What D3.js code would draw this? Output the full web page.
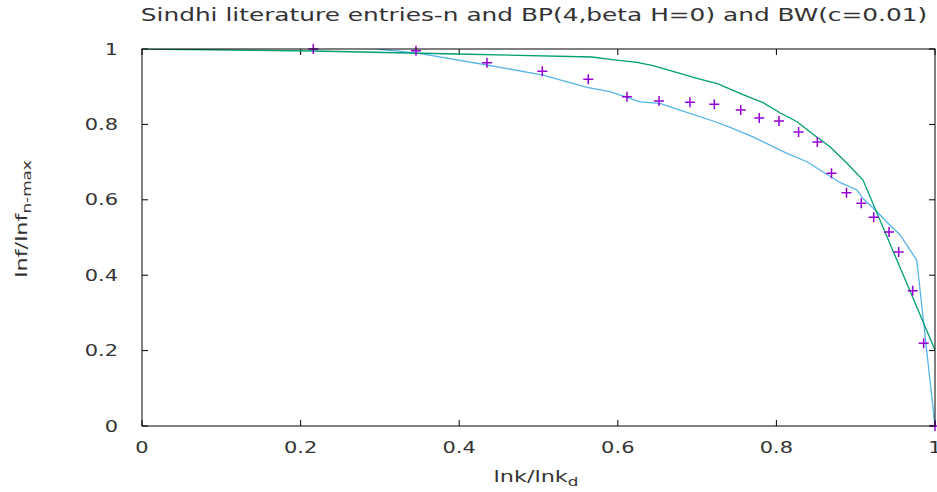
<!DOCTYPE html>
<html>
<head>
<meta charset="utf-8">
<script src="https://cdn.jsdelivr.net/npm/d3@7"></script>
<style>
  body { margin: 0; background: #fff; }
  text { font-family: "DejaVu Sans", sans-serif; fill: #333; }
</style>
</head>
<body>
<div id="chart"></div>
<script>
// data: lnk/lnk_d vs lnf/lnf_n-max
const obsX = [0.216, 0.3455, 0.435, 0.5048, 0.5628, 0.6116, 0.652, 0.691, 0.7217, 0.755, 0.7784, 0.8033,
              0.828, 0.8516, 0.8695, 0.8884, 0.907, 0.9227, 0.942, 0.9542, 0.9719, 0.9857, 1.0]
const obsY = [1.0, 0.9955, 0.9637, 0.941, 0.9196, 0.8735, 0.862, 0.8586, 0.8533, 0.838, 0.817, 0.809,
              0.780, 0.753, 0.6706, 0.619, 0.5907, 0.5536, 0.5146, 0.4615, 0.359, 0.2194, 0.0]

const bpX = [0, 0.2156, 0.397, 0.5675, 0.590, 0.6242, 0.6444, 0.6784, 0.6999, 0.7264, 0.7541, 0.7831,
             0.8045, 0.826, 0.8462, 0.8676, 0.889, 0.9092, 1.0]
const bpY = [1.0, 0.9947, 0.9867, 0.9788, 0.9727, 0.9647, 0.9557, 0.9355, 0.9223, 0.9072, 0.8825, 0.8576,
             0.831, 0.8072, 0.7737, 0.7408, 0.6968, 0.6525, 0.2016]

const bwX = [0.2963, 0.3455, 0.435, 0.5057, 0.5612, 0.590, 0.6116, 0.628, 0.6532, 0.6784, 0.720, 0.7415,
             0.7705, 0.7957, 0.8134, 0.8386, 0.855, 0.880, 0.9016, 0.909, 0.9268, 0.943, 0.956, 0.977, 1.0]
const bwY = [1.0, 0.990, 0.9576, 0.931, 0.898, 0.8867, 0.8719, 0.860, 0.856, 0.838, 0.809, 0.792,
             0.767, 0.741, 0.723, 0.701, 0.679, 0.646, 0.626, 0.604, 0.5684, 0.533, 0.5066, 0.440, 0.0]

const xTicks = [0, 0.2, 0.4, 0.6, 0.8, 1]
const yTicks = [0, 0.2, 0.4, 0.6, 0.8, 1]

const titleText = "Sindhi literature entries-n and BP(4,beta H=0) and BW(c=0.01)"

const W = 937, H = 492
const m = {left: 142, right: 2, top: 49, bottom: 66}
const sx = 1.4   // glyphs in the reference are wide

const svg = d3.select("#chart").append("svg")
    .attr("width", W).attr("height", H)

const x = d3.scaleLinear().domain([0, 1]).range([m.left, W - m.right])
const y = d3.scaleLinear().domain([0, 1]).range([H - m.bottom, m.top])

// stretched text helper
function label(g, px, py, str, size, anchor, k) {
    return g.append("text")
        .attr("transform", `translate(${px},${py}) scale(${k || sx},1)`)
        .attr("text-anchor", anchor || "middle")
        .style("font-size", size + "px")
        .text(str)
}

// ticks, inward on all four sides
const tk = 6
const gT = svg.append("g").attr("stroke", "#000").attr("stroke-width", 1)
xTicks.forEach(v => {
    gT.append("line").attr("x1", x(v)).attr("x2", x(v)).attr("y1", y(0)).attr("y2", y(0) - tk)
    gT.append("line").attr("x1", x(v)).attr("x2", x(v)).attr("y1", y(1)).attr("y2", y(1) + tk)
})
yTicks.forEach(v => {
    gT.append("line").attr("x1", x(0)).attr("x2", x(0) + tk).attr("y1", y(v)).attr("y2", y(v))
    gT.append("line").attr("x1", x(1)).attr("x2", x(1) - tk).attr("y1", y(v)).attr("y2", y(v))
})

const gL = svg.append("g")
xTicks.forEach(v => label(gL, x(v), 453, d3.format("~g")(v), 15))
yTicks.forEach(v => label(gL, 118, y(v) + 5.5, d3.format("~g")(v), 15, "end"))

// clip
svg.append("clipPath").attr("id", "clip").append("rect")
    .attr("x", x(0)).attr("y", y(1)).attr("width", x(1) - x(0)).attr("height", y(0) - y(1))

const line = d3.line().x(d => x(d[0])).y(d => y(d[1]))
const gP = svg.append("g").attr("clip-path", "url(#clip)")

gP.append("path").datum(d3.zip(bwX, bwY))
    .attr("d", line).attr("fill", "none").attr("stroke", "#56b4e9").attr("stroke-width", 1.3)
gP.append("path").datum(d3.zip(bpX, bpY))
    .attr("d", line).attr("fill", "none").attr("stroke", "#009e73").attr("stroke-width", 1.3)

// crosses
const cs = 5
svg.append("g").selectAll("path.pt")
    .data(d3.zip(obsX, obsY)).enter()
    .append("path")
    .attr("d", d => `M${x(d[0]) - cs},${y(d[1])}h${2 * cs}M${x(d[0])},${y(d[1]) - cs}v${2 * cs}`)
    .attr("stroke", "#9400d3").attr("stroke-width", 1.5).attr("fill", "none")

// frame
svg.append("rect").attr("x", x(0)).attr("y", y(1))
    .attr("width", x(1) - x(0)).attr("height", y(0) - y(1))
    .attr("fill", "none").attr("stroke", "#000").attr("stroke-width", 1)

// title
label(svg, 534, 21, titleText, 17, "middle", 1.46)

// x axis label
const xl = label(svg, 536, 482, "lnk/lnk", 16)
xl.append("tspan").attr("baseline-shift", "-4").style("font-size", "12px").text("d")

// y axis label
const yl = svg.append("text")
    .attr("transform", `translate(27,219) rotate(-90) scale(${sx},1)`)
    .attr("text-anchor", "middle")
    .style("font-size", "16px")
    .text("lnf/lnf")
yl.append("tspan").attr("baseline-shift", "-4").style("font-size", "12px").text("n-max")
</script>
</body>
</html>
